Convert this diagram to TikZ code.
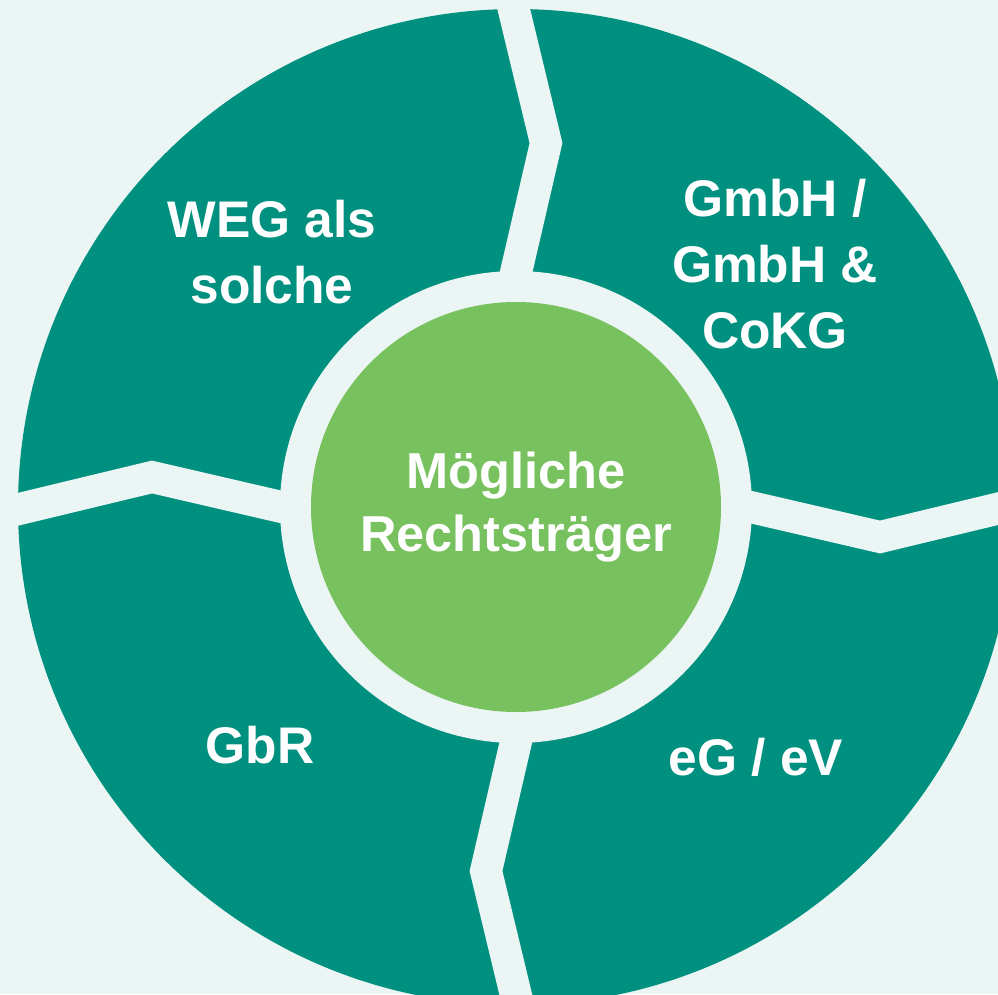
\documentclass[tikz,border=0pt]{standalone}
\usepackage{fontspec}
\setmainfont{Liberation Sans}

\definecolor{paper}{RGB}{235,245,243}
\definecolor{segteal}{RGB}{0,144,128}
\definecolor{hubgreen}{RGB}{120,193,95}

\begin{document}
\begin{tikzpicture}
   [
      x=1pt, y=-1pt,
      % Style for the white labels sitting on the ring segments
      label node/.style={text=white, align=center, font=\fontsize{51.5}{66}\selectfont\bfseries},
      % Style for the green disc in the middle, with its own label
      hub disc/.style={circle, fill=hubgreen, minimum size=410pt, inner sep=0pt, text=white, align=center, font=\fontsize{50.5}{63}\selectfont\bfseries},
      % Style for the chevron cuts between the ring segments
      cut/.style={draw=paper, line width=32pt, line join=miter, line cap=butt}
   ]

    % page and clipping frame
    \useasboundingbox (0,0) rectangle (998,994);
    \fill[paper] (0,0) rectangle (998,994);
    \clip (0,0) rectangle (998,994);

    \coordinate (centre) at (516,507);

    % =======================================================
    % Outer ring, cut into four segments
    % =======================================================

    \fill[segteal] (centre) circle[radius=498];
    \fill[paper] (centre) circle[radius=236];

    % The cuts all point clockwise, so one chevron rotated four times
    \begin{scope}[shift={(centre)}]
      \foreach \a in {0,90,180,270}
        \draw[cut, rotate=\a] (-8,-200) -- (30,-364) -- (-10,-530);
    \end{scope}

    % =======================================================
    % Hub and segment labels
    % =======================================================

    \node[hub disc] (hub) at (centre) {M\"ogliche\\Rechtstr\"ager};

    \node[label node] (weg) at (272,252) {WEG als\\solche};
    \node[label node] (gmbh) at (775,264) {GmbH /\\GmbH \&\\CoKG};
    \node[label node] (gbr) at (260,745) {GbR};
    \node[label node] (eg) at (756,757) {eG / eV};

\end{tikzpicture}
\end{document}
